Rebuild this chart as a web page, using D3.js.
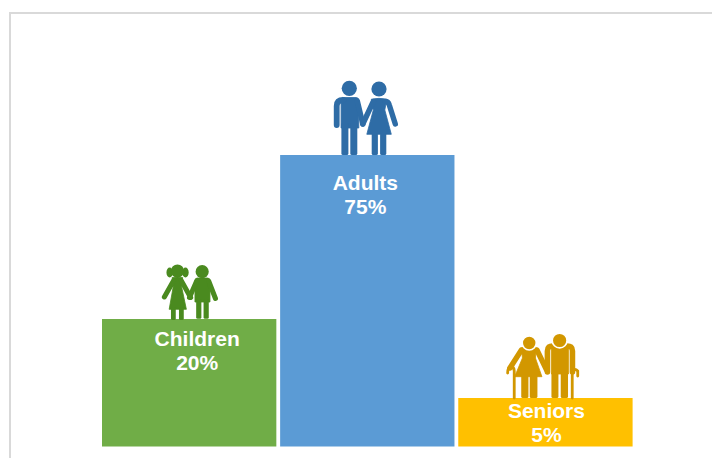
<!DOCTYPE html>
<html>
<head>
<meta charset="utf-8">
<script src="https://cdn.jsdelivr.net/npm/d3@7"></script>
<style>
  html, body { margin: 0; padding: 0; background: #fff; overflow: hidden; }
  svg { display: block; }
  text { font-family: "Liberation Sans", Arial, sans-serif; font-weight: 700; fill: #fff; }
</style>
</head>
<body>
<svg id="chart" width="712" height="458"></svg>
<script>
const categories = ["Children", "Adults", "Seniors"];
const shares = [20, 75, 5];
const barColors = ["#70AD47", "#5B9BD5", "#FFC000"];
const iconColors = ["#4A8A1F", "#2E6CA6", "#D29700"];

const width = 712, height = 458;
const baseline = 446.5;

// The bars follow a stepped scale rather than a proportional one:
// each share has its own height on the page.
const y = d3.scaleLinear().domain([0, 5, 20, 75]).range([baseline, 398, 319, 155]);
const x = d3.scaleBand().domain(categories).range([102, 632.6]).paddingInner(0.0213).paddingOuter(0);

// Caption offsets relative to the bar centre and the bar top.
const captionShift = { Children: [8, 27], Adults: [-2, 35], Seniors: [1, 20] };

// Pictogram parts, in a frame whose origin is the top centre of the bar.
const limb = (d, w) => ({ kind: "limb", d, w });
const fill = d => ({ kind: "fill", d });
const leg = (x0, x1, top, bottom) => ({ kind: "leg", x0, x1, top, bottom });
const head = (cx, cy, r, halo = 0) => ({ kind: "head", cx, cy, rx: r, ry: r, halo });
const tail = (cx, cy, rx, ry) => ({ kind: "head", cx, cy, rx, ry, halo: 0 });

const pictograms = {
  Children: [
    fill("M-17,-41.5 Q-11.7,-42.5 -6.5,-41.5 L-7.5,-32 L-2.8,-9.7 L-20,-9.7 L-16,-32 Z"),
    limb("M-15.5,-38.5 L-24.8,-22", 5),
    limb("M-8,-38.5 L1.5,-21.5", 5),
    leg(-18.2, -13.4, -12, 1), leg(-10.2, -5.4, -12, 1),
    tail(-19.5, -46.5, 3.2, 5), tail(-3.7, -46.5, 3.2, 5),
    head(-11.7, -48, 6.6),
    fill("M8,-41 L18.5,-41 Q20.8,-41 20.8,-38 L20.8,-17 L5.8,-17 L5.8,-38 Q5.8,-41 8,-41 Z"),
    limb("M7.5,-38 L0.3,-21.5", 5),
    limb("M19.5,-38 L26.3,-20.5", 5),
    leg(7, 12.2, -20, -0.3), leg(14.4, 19.6, -20, -0.3),
    head(13, -47.3, 6.6)
  ],
  Adults: [
    fill("M-25,-57.5 L-11,-57.5 Q-8.5,-57.5 -8.5,-54 L-8.5,-27 L-26.2,-27 L-26.2,-54 Q-26.2,-57.5 -25,-57.5 Z"),
    limb("M-24,-55 Q-30.6,-55 -30.6,-49 L-30.6,-30", 5.8),
    limb("M-10,-54 L-4.5,-31", 5.4),
    leg(-25.9, -18.9, -32, 0), leg(-17, -10, -32, 0),
    head(-18, -66.7, 7.6),
    fill("M4,-55.8 Q11.7,-57.5 19.5,-55.8 L17.5,-45 L24,-20.7 L-0.5,-20.7 L6,-45 Z"),
    limb("M6,-53.5 L-4.5,-31", 5.4),
    limb("M18,-53.5 Q21,-53.5 22,-50 L28,-31", 5.4),
    leg(4.4, 10.6, -22, 0), leg(12.8, 19, -22, 0),
    head(11.7, -66, 7.6)
  ],
  Seniors: [
    fill("M-24,-50.3 Q-16.2,-52 -9,-50.3 L-10,-40 L-3.5,-21.3 L-30.8,-21.3 L-23,-40 Z"),
    limb("M-24,-48 L-35.5,-30", 5.4),
    limb("M-8.5,-48 L1.2,-28", 5.4),
    limb("M-37.8,-25 Q-37.8,-31 -34.5,-31 Q-31.2,-31 -31.2,-27 L-31.2,0", 2.8),
    leg(-24.2, -17, -23, 0), leg(-15.7, -8, -23, 0),
    head(-16.2, -55, 7, 1.6),
    fill("M6,-53 L23,-53 L23,-24 L6,-24 Z"),
    limb("M2,-26 L2,-47 Q2,-52.5 8,-52 L21,-52 Q27,-52.5 27,-47 L27,-26", 5.6),
    limb("M26.8,0 L26.8,-27 Q29.5,-30 32.3,-27 L32.3,-22", 2.8),
    leg(6, 13, -26, 0), leg(15.3, 22.6, -26, 0),
    head(14.2, -57.5, 7.4, 1.6)
  ]
};

const svg = d3.select("#chart");

// Panel frame, open on the right and at the bottom of the page.
svg.append("rect")
  .attr("x", 10).attr("y", 13)
  .attr("width", width + 20).attr("height", height + 20)
  .attr("fill", "#fff").attr("stroke", "#D9D9D9").attr("stroke-width", 2);

const rows = categories.map((name, i) => ({
  name, share: shares[i], color: barColors[i], iconColor: iconColors[i]
}));

svg.selectAll("rect.bar").data(rows).join("rect")
  .attr("class", "bar")
  .attr("x", d => x(d.name))
  .attr("y", d => y(d.share))
  .attr("width", x.bandwidth())
  .attr("height", d => baseline - y(d.share))
  .attr("fill", d => d.color);

const icons = svg.selectAll("g.icon").data(rows).join("g")
  .attr("class", "icon")
  .attr("transform", d => `translate(${x(d.name) + x.bandwidth() / 2},${y(d.share)})`);

icons.each(function (row) {
  const g = d3.select(this);
  pictograms[row.name].forEach(part => {
    if (part.kind === "fill") {
      g.append("path").attr("d", part.d).attr("fill", row.iconColor)
        .attr("stroke", row.iconColor).attr("stroke-width", 0.8).attr("stroke-linejoin", "round");
    } else if (part.kind === "limb") {
      g.append("path").attr("d", part.d).attr("fill", "none")
        .attr("stroke", row.iconColor).attr("stroke-width", part.w).attr("stroke-linecap", "round");
    } else if (part.kind === "leg") {
      g.append("rect").attr("x", part.x0).attr("y", part.top)
        .attr("width", part.x1 - part.x0).attr("height", part.bottom - part.top)
        .attr("rx", 1.5).attr("fill", row.iconColor);
    } else {
      g.append("ellipse").attr("cx", part.cx).attr("cy", part.cy)
        .attr("rx", part.rx).attr("ry", part.ry).attr("fill", row.iconColor)
        .attr("stroke", part.halo ? "#fff" : "none").attr("stroke-width", part.halo);
    }
  });
});

const captions = svg.selectAll("text.caption").data(rows).join("text")
  .attr("class", "caption")
  .attr("text-anchor", "middle")
  .attr("font-size", 21)
  .attr("transform", d => {
    const [dx, dy] = captionShift[d.name];
    return `translate(${x(d.name) + x.bandwidth() / 2 + dx},${y(d.share) + dy})`;
  });

captions.append("tspan").attr("x", 0).attr("y", 0).text(d => d.name);
captions.append("tspan").attr("x", 0).attr("y", 24).text(d => `${d.share}%`);
</script>
</body>
</html>
